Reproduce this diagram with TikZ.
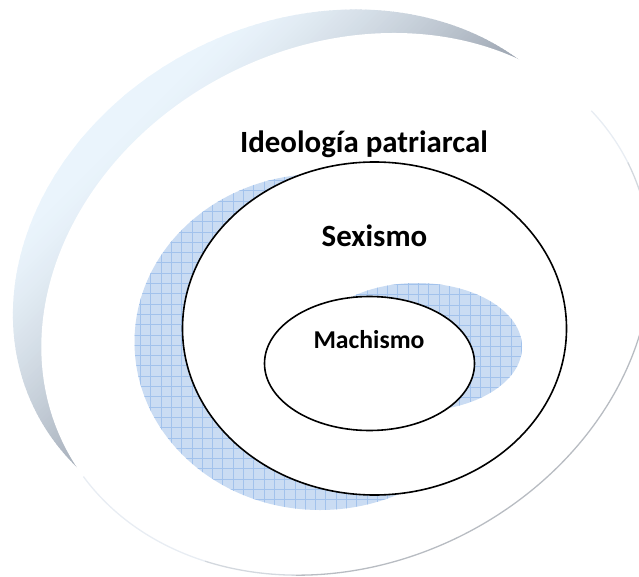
\documentclass[tikz,border=0pt]{standalone}
\usepackage{fontspec}
\setmainfont{Carlito}
\usetikzlibrary{shapes.geometric}
\definecolor{clight}{HTML}{EAF4FC}
\definecolor{cgray}{HTML}{9AA2AE}
\definecolor{bluefill}{HTML}{CADCF3}
\definecolor{bluegrid}{HTML}{A2C2EC}
\definecolor{rimgray}{HTML}{B8BCC2}
\definecolor{rimmid}{HTML}{D3D8DE}
\definecolor{rimlight}{HTML}{E8EDF3}
\tikzset{
  ring/.style={ellipse, draw=black, line width=1.6pt, fill=white, inner sep=0pt},
  lbl/.style={anchor=base, inner sep=0pt},
  bigtxt/.style={font=\bfseries\fontsize{30.9}{36}\selectfont},
  smalltxt/.style={font=\bfseries\fontsize{25.7}{30}\selectfont},
  rimline/.style={line width=1.3pt},
  gridline/.style={bluegrid, line width=0.55pt},
}
\begin{document}
\begin{tikzpicture}[x=1pt,y=-1pt]
\useasboundingbox (0,0) rectangle (639,577);
% back face (shaded side of the tilted disc)
\begin{scope}
  \clip[rotate around={26.7:(309.2,273.0)}] (309.2,273.0) ellipse [x radius=306.5, y radius=251.5];
  \foreach \s in {100,105,...,700} {
    \pgfmathsetmacro{\p}{100*pow(max(0.0001,min(1,(\s-250)/330)),1.4)}
    \fill[cgray!\p!clight] (\s+100,-100) -- (-100,\s+100) -- (-100,\s+106) -- (\s+106,-100) -- cycle;
  }
\end{scope}
% front face
\begin{scope}[shift={(346.1,304.1)}, rotate=26.7]
  \fill[white] (0,0) ellipse [x radius=315.3, y radius=258.7];
  \draw[rimline, rimlight] (-14:315.3 and 258.7) arc[start angle=-14, end angle=0, x radius=315.3, y radius=258.7];
  \draw[rimline, rimmid] (0:315.3 and 258.7) arc[start angle=0, end angle=18, x radius=315.3, y radius=258.7];
  \draw[rimline, rimgray] (18:315.3 and 258.7) arc[start angle=18, end angle=122, x radius=315.3, y radius=258.7];
  \draw[rimline, rimmid] (122:315.3 and 258.7) arc[start angle=122, end angle=140, x radius=315.3, y radius=258.7];
  \draw[rimline, rimlight] (140:315.3 and 258.7) arc[start angle=140, end angle=172, x radius=315.3, y radius=258.7];
\end{scope}
% blue hatched shadow behind Sexismo
\begin{scope}
  \clip (320,342) ellipse [x radius=185.5, y radius=168];
  \fill[bluefill] (100,150) rectangle (560,530);
  \foreach \g in {130,140.3,...,560} \draw[gridline] (\g,150) -- (\g,530);
  \foreach \g in {170,180.3,...,530} \draw[gridline] (100,\g) -- (560,\g);
\end{scope}
\node[ring, minimum width=384pt, minimum height=333pt] (sex) at (374.5,328.5) {};
% blue hatched shadow behind Machismo
\begin{scope}
  \clip (417,347) ellipse [x radius=105, y radius=64];
  \fill[bluefill] (300,270) rectangle (540,420);
  \foreach \g in {305,315.3,...,540} \draw[gridline] (\g,270) -- (\g,420);
  \foreach \g in {274,284.3,...,420} \draw[gridline] (300,\g) -- (540,\g);
\end{scope}
\node[ring, minimum width=210pt, minimum height=134pt] (mach) at (369.5,363.5) {};
% labels
\node[lbl, bigtxt] (ideo) at (364,153) {Ideología patriarcal};
\node[lbl, bigtxt] (sexl) at (374.5,247) {Sexismo};
\node[lbl, smalltxt] (machl) at (369,348) {Machismo};
\end{tikzpicture}
\end{document}
